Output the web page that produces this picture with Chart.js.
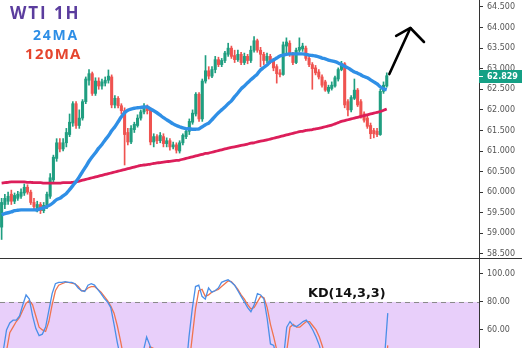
<!DOCTYPE html>
<html>
<head>
<meta charset="utf-8">
<script src="https://cdn.jsdelivr.net/npm/chart.js@4/dist/chart.umd.min.js"></script>
<style>
  html, body { margin: 0; padding: 0; background: #fff; }
  #wrap { position: relative; width: 522px; height: 348px; overflow: hidden; background: #fff; }
  #mainBox { position: absolute; left: 0; top: 0; width: 522px; height: 258px; }
  #kdBox { position: absolute; left: 0; top: 258px; width: 522px; height: 90px; }
  #sep { position: absolute; left: 0; top: 258px; width: 522px; height: 1px; background: #333; }
  .lbl { position: absolute; white-space: nowrap; font-family: 'Open Sans', sans-serif; font-weight: 700; line-height: 1; }
  #t1 { left: 10px; top: 4px; font-size: 17px; color: #5b3d9e; letter-spacing: 1.9px; }
  #t2 { left: 33px; top: 28px; font-size: 14px; color: #2d8ee6; letter-spacing: 1.8px; }
  #t3 { left: 25px; top: 46px; font-size: 15px; color: #e5452e; letter-spacing: 1.3px; }
  #kdLbl { left: 308px; top: 287px; font-family: 'DejaVu Sans', sans-serif; font-size: 12.8px; color: #111; }
</style>
</head>
<body>
<div id="wrap">
  <div id="mainBox"><canvas id="main" width="522" height="258"></canvas></div>
  <div id="kdBox"><canvas id="kd" width="522" height="90"></canvas></div>
  <div id="sep"></div>
  <div class="lbl" id="t1">WTI 1H</div>
  <div class="lbl" id="t2">24MA</div>
  <div class="lbl" id="t3">120MA</div>
  <div class="lbl" id="kdLbl">KD(14,3,3)</div>
</div>
<script>
// Hourly WTI candles (120 bars), oldest first
const OPEN = [
  59.15,59.70,59.78,59.95,59.78,59.85,59.90,59.98,60.12,60.00,
  59.75,59.60,59.70,59.55,59.65,59.90,60.30,60.82,61.20,61.05,
  61.20,61.40,61.68,62.15,61.62,61.80,62.20,62.72,62.88,62.40,
  62.70,62.58,62.65,62.72,62.80,62.12,62.28,62.10,61.98,61.45,
  61.22,61.52,61.62,61.80,61.95,62.05,62.00,61.22,61.35,61.25,
  61.35,61.18,61.25,61.10,61.15,61.00,61.20,61.35,61.48,61.70,
  61.90,62.38,61.78,62.70,62.95,62.82,62.98,63.22,63.10,63.20,
  63.35,63.50,63.32,63.22,63.35,63.15,63.30,63.20,63.45,63.68,
  63.45,63.35,63.20,63.30,63.20,63.05,62.90,62.86,63.55,63.62,
  63.35,63.15,63.45,63.48,63.50,63.25,63.10,63.02,62.92,62.80,
  62.68,62.45,62.52,62.58,62.75,62.98,63.12,62.20,62.00,62.28,
  62.48,62.20,61.90,61.80,61.62,61.50,61.48,61.40,62.45,62.58
];
const HIGH = [
  59.85,59.95,60.00,60.05,59.98,60.02,60.08,60.20,60.18,60.05,
  59.85,59.78,59.75,59.75,60.00,60.45,60.90,61.30,61.30,61.30,
  61.55,61.90,62.20,62.20,62.00,62.25,62.80,62.98,62.92,62.78,
  62.78,62.75,62.80,62.97,62.85,62.35,62.32,62.15,62.05,61.55,
  61.62,61.70,61.88,62.00,62.15,62.12,62.05,61.42,61.40,61.45,
  61.42,61.32,61.30,61.22,61.20,61.25,61.42,61.55,61.78,62.00,
  62.42,62.42,62.75,63.32,63.05,63.05,63.30,63.28,63.25,63.42,
  63.62,63.55,63.45,63.45,63.40,63.38,63.35,63.55,63.78,63.72,
  63.52,63.40,63.38,63.35,63.25,63.10,62.98,63.65,63.75,63.68,
  63.40,63.50,63.75,63.62,63.55,63.30,63.15,63.08,62.98,62.85,
  62.72,62.60,62.68,62.82,63.02,63.18,63.15,62.25,62.35,62.75,
  62.52,62.25,61.95,61.85,61.68,61.55,61.55,62.50,62.68,62.90
];
const LOW = [
  58.85,59.60,59.70,59.70,59.72,59.80,59.85,59.92,59.95,59.70,
  59.58,59.52,59.48,59.50,59.60,59.85,60.25,60.75,60.98,61.00,
  61.10,61.35,61.60,61.55,61.55,61.75,62.15,62.60,62.35,62.35,
  62.50,62.50,62.58,62.65,62.05,62.05,62.05,61.90,60.66,61.15,
  61.18,61.45,61.58,61.75,61.90,61.90,61.15,61.10,61.18,61.20,
  61.10,61.10,61.02,61.05,60.95,60.95,61.15,61.30,61.40,61.65,
  61.85,61.72,61.72,62.65,62.75,62.78,62.90,63.05,63.05,63.15,
  63.30,63.25,63.15,63.18,63.10,63.10,63.12,63.15,63.40,63.40,
  63.05,63.10,63.15,63.12,62.95,62.65,62.80,62.84,63.35,63.30,
  63.10,63.12,63.40,63.42,63.20,63.05,62.50,62.85,62.75,62.55,
  62.45,62.40,62.48,62.55,62.70,62.95,62.05,61.85,61.95,62.25,
  62.08,61.80,61.70,61.55,61.30,61.32,61.35,61.38,62.40,62.55
];
const CLOSE = [
  59.75,59.85,59.90,59.78,59.92,59.95,60.00,60.12,60.00,59.75,
  59.65,59.70,59.55,59.68,59.95,60.35,60.85,61.20,61.05,61.20,
  61.45,61.70,62.15,61.62,61.80,62.20,62.75,62.88,62.40,62.70,
  62.58,62.68,62.72,62.82,62.12,62.28,62.10,61.98,61.40,61.22,
  61.55,61.65,61.80,61.95,62.08,61.98,61.22,61.35,61.25,61.38,
  61.18,61.25,61.10,61.15,61.02,61.20,61.38,61.48,61.72,61.92,
  62.38,61.78,62.70,62.95,62.82,62.98,63.22,63.10,63.20,63.38,
  63.50,63.30,63.22,63.35,63.15,63.30,63.20,63.45,63.68,63.45,
  63.35,63.20,63.30,63.20,63.02,62.88,62.86,63.58,63.65,63.35,
  63.15,63.45,63.52,63.55,63.25,63.10,63.00,62.90,62.80,62.60,
  62.48,62.55,62.60,62.78,62.98,63.12,62.12,62.00,62.30,62.48,
  62.12,61.85,61.75,61.60,61.42,61.42,61.40,62.45,62.60,62.829
];
// 24-period moving average
const MA24 = [
  59.45,59.48,59.50,59.52,59.55,59.56,59.57,59.57,59.57,59.57,
  59.57,59.57,59.60,59.62,59.65,59.69,59.75,59.82,59.85,59.91,
  59.97,60.06,60.16,60.26,60.37,60.50,60.62,60.75,60.86,60.96,
  61.07,61.16,61.27,61.37,61.49,61.59,61.71,61.83,61.93,61.99,
  62.02,62.04,62.05,62.06,62.07,62.07,62.02,61.98,61.93,61.87,
  61.81,61.76,61.71,61.66,61.62,61.59,61.56,61.54,61.54,61.53,
  61.53,61.54,61.59,61.64,61.68,61.76,61.85,61.93,62.00,62.07,
  62.15,62.22,62.32,62.41,62.51,62.58,62.66,62.73,62.80,62.87,
  62.97,63.03,63.09,63.17,63.21,63.26,63.31,63.33,63.35,63.36,
  63.36,63.36,63.36,63.36,63.35,63.33,63.32,63.31,63.29,63.26,
  63.24,63.21,63.19,63.17,63.14,63.10,63.06,63.02,62.97,62.92,
  62.89,62.85,62.81,62.78,62.73,62.68,62.63,62.56,62.51,62.49
];
// 120-period moving average
const MA120 = [
  60.22,60.23,60.24,60.25,60.25,60.25,60.25,60.25,60.24,60.24,
  60.23,60.23,60.23,60.22,60.22,60.22,60.22,60.22,60.22,60.23,
  60.23,60.23,60.24,60.25,60.27,60.29,60.31,60.33,60.35,60.37,
  60.39,60.41,60.43,60.45,60.47,60.49,60.51,60.53,60.55,60.57,
  60.59,60.61,60.63,60.65,60.66,60.67,60.68,60.70,60.71,60.72,
  60.73,60.74,60.75,60.76,60.77,60.78,60.80,60.82,60.84,60.86,
  60.88,60.90,60.92,60.94,60.95,60.97,60.99,61.01,61.03,61.05,
  61.07,61.09,61.10,61.12,61.14,61.15,61.17,61.19,61.20,61.22,
  61.24,61.25,61.27,61.29,61.31,61.33,61.35,61.37,61.39,61.41,
  61.43,61.45,61.47,61.48,61.50,61.51,61.52,61.54,61.55,61.57,
  61.59,61.61,61.63,61.66,61.69,61.72,61.74,61.76,61.78,61.80,
  61.82,61.84,61.86,61.88,61.90,61.92,61.94,61.96,61.99,62.02
];
// Stochastic KD(14,3,3)
const K_LINE = [
  30,45,60,65,67,67,70,78,85,82, 70,61,56,57,62,74,86,93,94,94,
  94.5,94,94,93,90,88,87.5,92,93,92, 89,86,82.5,80,76,64,51,40,30,20,
  15,12,18,28,45,55,49,40,30,20, 15,10,8,12,18,14,20,30,55,75,
  91,92,84,82,90,87,88,90,94,95, 95.8,94,92,88,84,80,76,73,78,86,
  85,82,68,50,49,38,25,40,62,66, 63,62.5,64,66,67,64,60,55,49,40,
  30,22,15,10,8,12,18,15,10,6, 5,9,14,10,7,5,8,15,40,72
];
const D_LINE = [
  20,30,45,58,62,66,69,74,79,81, 78,70,62,60,59,66,78,88,92,93,
  94,94,93.5,93,91,88,88,90,91,91, 89,87,84,81,77,72,63,52,40,30,
  20,15,15,20,28,38,48,47,40,32, 25,18,12,10,13,15,18,22,35,55,
  75,88,89,84,85,87,88,89,91,93, 95,94.5,92,89,85,82,78,75,76,80,
  84,83,76,64,55,45,35,32,45,62, 64,62,62,64,66,66,63,60,55,48,
  38,28,20,14,10,10,13,15,13,9, 7,7,10,11,9,7,7,10,22,49
];
const PRICE_TICKS = [58.5,59,59.5,60,60.5,61,61.5,62,62.5,63,63.5,64,64.5];
const KD_TICKS = [60, 80, 100];
const KD_OVERBOUGHT = 80;
// Hand-drawn arrow, in (bar index, price) coordinates
const ARROW_SHAFT = [[119.8, 62.87], [126.3, 63.99]];
const ARROW_HEAD = [[121.9, 63.80], [126.3, 63.99], [130.5, 63.65]];

const SLOTS = 148; // bars plus empty space to the right
const LABELS = Array.from({ length: SLOTS }, (_, i) => String(i));

const UP = '#1f9e80', DOWN = '#ef5350';
const candleColors = CLOSE.map((c, i) => (c >= OPEN[i] ? UP : DOWN));

const axisFont = { family: 'DejaVu Sans', size: 8 };

function rightAxis(min, max, ticks, digits) {
  return {
    position: 'right', min, max,
    afterBuildTicks: s => { s.ticks = ticks.map(v => ({ value: v })); },
    afterFit: s => { s.width = 43; s.paddingTop = 0; s.paddingBottom = 0; },
    ticks: { font: axisFont, color: '#555', padding: 4, callback: v => Number(v).toFixed(digits) },
    grid: { drawOnChartArea: false, drawTicks: true, tickLength: 4, color: '#333' },
    border: { display: true, color: '#333', width: 1 }
  };
}

const overlays = {
  id: 'overlays',
  afterDatasetsDraw(chart) {
    const { ctx, scales: { x, y } } = chart;
    const pt = p => [x.getPixelForValue(p[0]), y.getPixelForValue(p[1])];
    ctx.save();
    ctx.strokeStyle = '#000';
    ctx.lineWidth = 2.6;
    ctx.lineCap = 'round';
    ctx.lineJoin = 'round';
    ctx.beginPath();
    ARROW_SHAFT.forEach((p, i) => { const [px, py] = pt(p); i ? ctx.lineTo(px, py) : ctx.moveTo(px, py); });
    ctx.stroke();
    ctx.beginPath();
    ARROW_HEAD.forEach((p, i) => { const [px, py] = pt(p); i ? ctx.lineTo(px, py) : ctx.moveTo(px, py); });
    ctx.stroke();
    ctx.restore();
  },
  afterDraw(chart) {
    // last price tag on the price axis
    const { ctx, chartArea, scales: { y } } = chart;
    const last = CLOSE[CLOSE.length - 1];
    const py = Math.round(y.getPixelForValue(last));
    ctx.save();
    ctx.fillStyle = '#14a085';
    ctx.fillRect(chartArea.right, py - 6, chart.width - chartArea.right, 13);
    ctx.strokeStyle = '#fff';
    ctx.lineWidth = 1;
    ctx.beginPath();
    ctx.moveTo(chartArea.right, py + 0.5);
    ctx.lineTo(chartArea.right + 4, py + 0.5);
    ctx.stroke();
    ctx.fillStyle = '#fff';
    ctx.font = 'bold 8px "DejaVu Sans"';
    ctx.textBaseline = 'middle';
    ctx.fillText(last.toFixed(3), chartArea.right + 8, py + 0.5);
    ctx.restore();
  }
};

new Chart(document.getElementById('main'), {
  type: 'bar',
  data: {
    labels: LABELS,
    datasets: [
      { type: 'line', data: MA24, borderColor: '#2f8fe6', borderWidth: 3.4, pointRadius: 0, tension: 0.3, order: 0 },
      { type: 'line', data: MA120, borderColor: '#dc1e5a', borderWidth: 2.8, pointRadius: 0, tension: 0.3, order: 1 },
      { data: LOW.map((l, i) => [l, HIGH[i]]), backgroundColor: candleColors, barThickness: 1, grouped: false, order: 3 },
      { data: OPEN.map((o, i) => [o, CLOSE[i]]), backgroundColor: candleColors, barThickness: 2.4, minBarLength: 1, grouped: false, order: 2 }
    ]
  },
  options: {
    responsive: false, animation: false,
    layout: { padding: 0 },
    plugins: { legend: { display: false }, tooltip: { enabled: false } },
    scales: {
      x: { display: false, offset: true },
      y: rightAxis(58.4, 64.67, PRICE_TICKS, 3)
    }
  },
  plugins: [overlays]
});

const kdZone = {
  id: 'kdZone',
  beforeDatasetsDraw(chart) {
    const { ctx, chartArea: a, scales: { y } } = chart;
    const py = y.getPixelForValue(KD_OVERBOUGHT);
    ctx.save();
    ctx.fillStyle = '#e8cffa';
    ctx.fillRect(a.left, py, a.right - a.left, a.bottom - py);
    ctx.strokeStyle = '#8a8a8a';
    ctx.lineWidth = 1;
    ctx.setLineDash([5, 4]);
    ctx.beginPath();
    ctx.moveTo(a.left, Math.round(py) + 0.5);
    ctx.lineTo(a.right, Math.round(py) + 0.5);
    ctx.stroke();
    ctx.restore();
  }
};

new Chart(document.getElementById('kd'), {
  type: 'line',
  data: {
    labels: LABELS,
    datasets: [
      { data: K_LINE, borderColor: '#4a8fe8', borderWidth: 1.3, pointRadius: 0, tension: 0 },
      { data: D_LINE, borderColor: '#f0734e', borderWidth: 1.3, pointRadius: 0, tension: 0 }
    ]
  },
  options: {
    responsive: false, animation: false,
    layout: { padding: 0 },
    plugins: { legend: { display: false }, tooltip: { enabled: false } },
    scales: {
      x: { display: false, offset: false },
      y: rightAxis(47.1, 111.4, KD_TICKS, 2)
    }
  },
  plugins: [kdZone]
});
</script>
</body>
</html>
